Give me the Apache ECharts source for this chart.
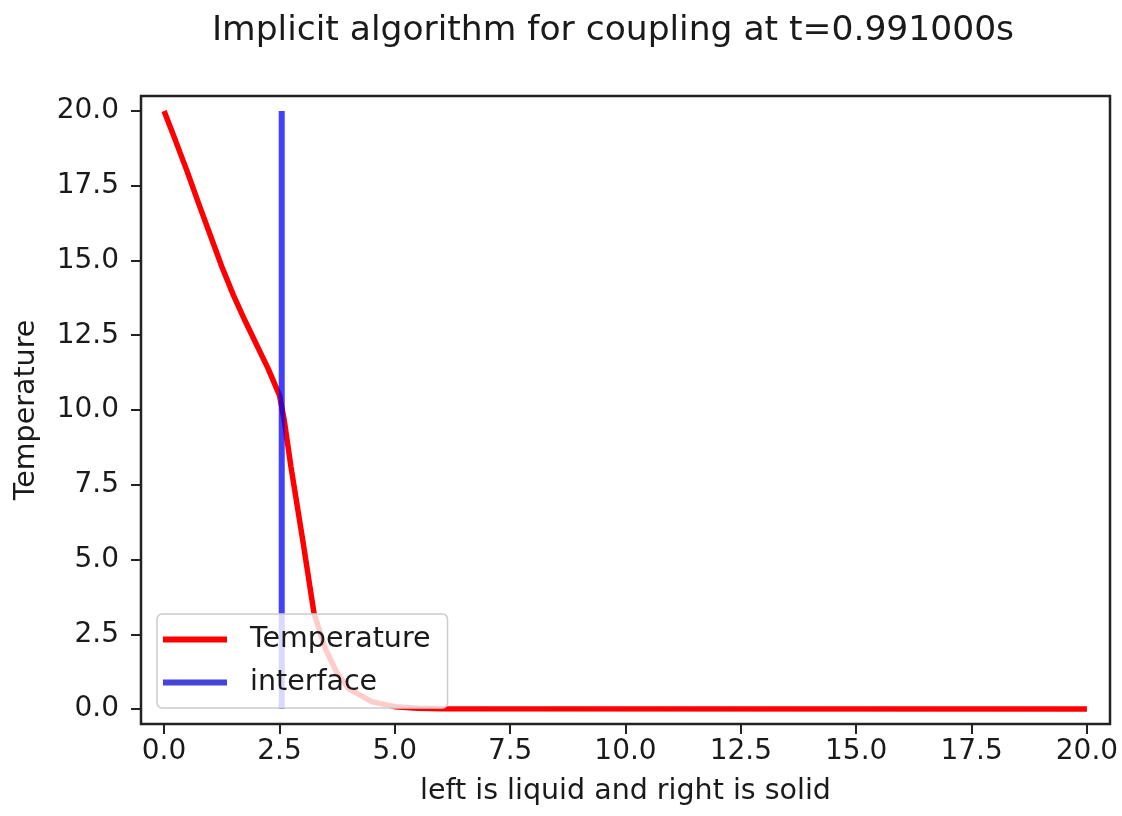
<!DOCTYPE html>
<html>
<head>
<meta charset="utf-8">
<script src="https://cdn.jsdelivr.net/npm/echarts@6/dist/echarts.min.js"></script>
<style>
html,body{margin:0;padding:0;background:#fff;}
#chart{width:1122px;height:816px;}
</style>
</head>
<body>
<div id="chart"></div>
<script>
// Data
const titleText = 'Implicit algorithm for coupling at t=0.991000s';
const xAxisName = 'left is liquid and right is solid';
const yAxisName = 'Temperature';
const tempX = [0, 0.25, 0.5, 0.75, 1.0, 1.25, 1.5, 1.75, 2.0, 2.25, 2.5, 2.6, 2.75, 3.0, 3.25, 3.5, 3.75, 4.0, 4.5, 5.0, 5.5, 6.0, 20.0];
const tempY = [20.0, 19.0, 17.98, 16.9, 15.85, 14.8, 13.85, 13.0, 12.2, 11.4, 10.5, 9.7, 8.1, 5.7, 3.2, 2.0, 1.2, 0.68, 0.25, 0.08, 0.03, 0.01, 0.0];
const interfaceX = [2.55, 2.55];
const interfaceY = [0.0, 20.0];
const xTicks = [0, 2.5, 5, 7.5, 10, 12.5, 15, 17.5, 20];
const yTicks = [0, 2.5, 5, 7.5, 10, 12.5, 15, 17.5, 20];

const FONT = 'DejaVu Sans';
const TXT = '#1a1a1a';

const tempData = tempX.map((x, i) => [x, tempY[i]]);
const ifaceData = interfaceX.map((x, i) => [x, interfaceY[i]]);

const chart = echarts.init(document.getElementById('chart'), null, {renderer: 'canvas'});
chart.setOption({
  backgroundColor: '#ffffff',
  animation: false,
  title: {
    text: titleText,
    left: 608,
    top: 9,
    textAlign: 'center',
    textStyle: {fontFamily: FONT, fontSize: 34.5, fontWeight: 'normal', color: TXT}
  },
  grid: {
    left: 141, right: 12, top: 96, bottom: 92,
    show: true, borderColor: '#222', borderWidth: 2.5, backgroundColor: 'transparent'
  },
  legend: {
    orient: 'vertical',
    left: 157, top: 614,
    padding: [11, 17, 11, 6],
    itemWidth: 64, itemHeight: 6, itemGap: 14,
    backgroundColor: 'rgba(255,255,255,0.8)',
    borderColor: '#cccccc', borderWidth: 1.5, borderRadius: 5,
    textStyle: {fontFamily: FONT, fontSize: 28.5, color: TXT, padding: [0, 0, 0, 18]},
    data: [
      {name: 'Temperature', icon: 'rect', itemStyle: {color: '#ff0000'}},
      {name: 'interface', icon: 'rect', itemStyle: {color: '#4444d8'}}
    ]
  },
  xAxis: {
    type: 'value', min: -0.5, max: 20.5,
    name: xAxisName, nameLocation: 'middle', nameGap: 53,
    nameTextStyle: {fontFamily: FONT, fontSize: 28.5, color: TXT},
    axisLine: {show: false, onZero: false},
    axisTick: {show: true, length: 10, lineStyle: {color: '#222', width: 2}, customValues: xTicks},
    axisLabel: {show: true, margin: 14, fontFamily: FONT, fontSize: 28, color: TXT, customValues: xTicks,
      formatter: v => Number(v).toFixed(1)},
    splitLine: {show: false}
  },
  yAxis: {
    type: 'value', min: -0.5, max: 20.5,
    name: yAxisName, nameLocation: 'middle', nameGap: 100,
    nameTextStyle: {fontFamily: FONT, fontSize: 28.5, color: TXT},
    axisLine: {show: false, onZero: false},
    axisTick: {show: true, length: 10, lineStyle: {color: '#222', width: 2}, customValues: yTicks},
    axisLabel: {show: true, margin: 22, fontFamily: FONT, fontSize: 28, color: TXT, customValues: yTicks,
      formatter: v => Number(v).toFixed(1)},
    splitLine: {show: false}
  },
  series: [
    {
      name: 'Temperature', type: 'line', data: tempData,
      symbol: 'none', smooth: false, z: 2,
      lineStyle: {color: '#ff0000', width: 5.5},
      itemStyle: {color: '#ff0000'}
    },
    {
      name: 'interface', type: 'line', data: ifaceData,
      symbol: 'none', z: 3,
      lineStyle: {color: '#0000ff', width: 6, opacity: 0.75},
      itemStyle: {color: '#4444d8'}
    }
  ]
});
</script>
</body>
</html>
